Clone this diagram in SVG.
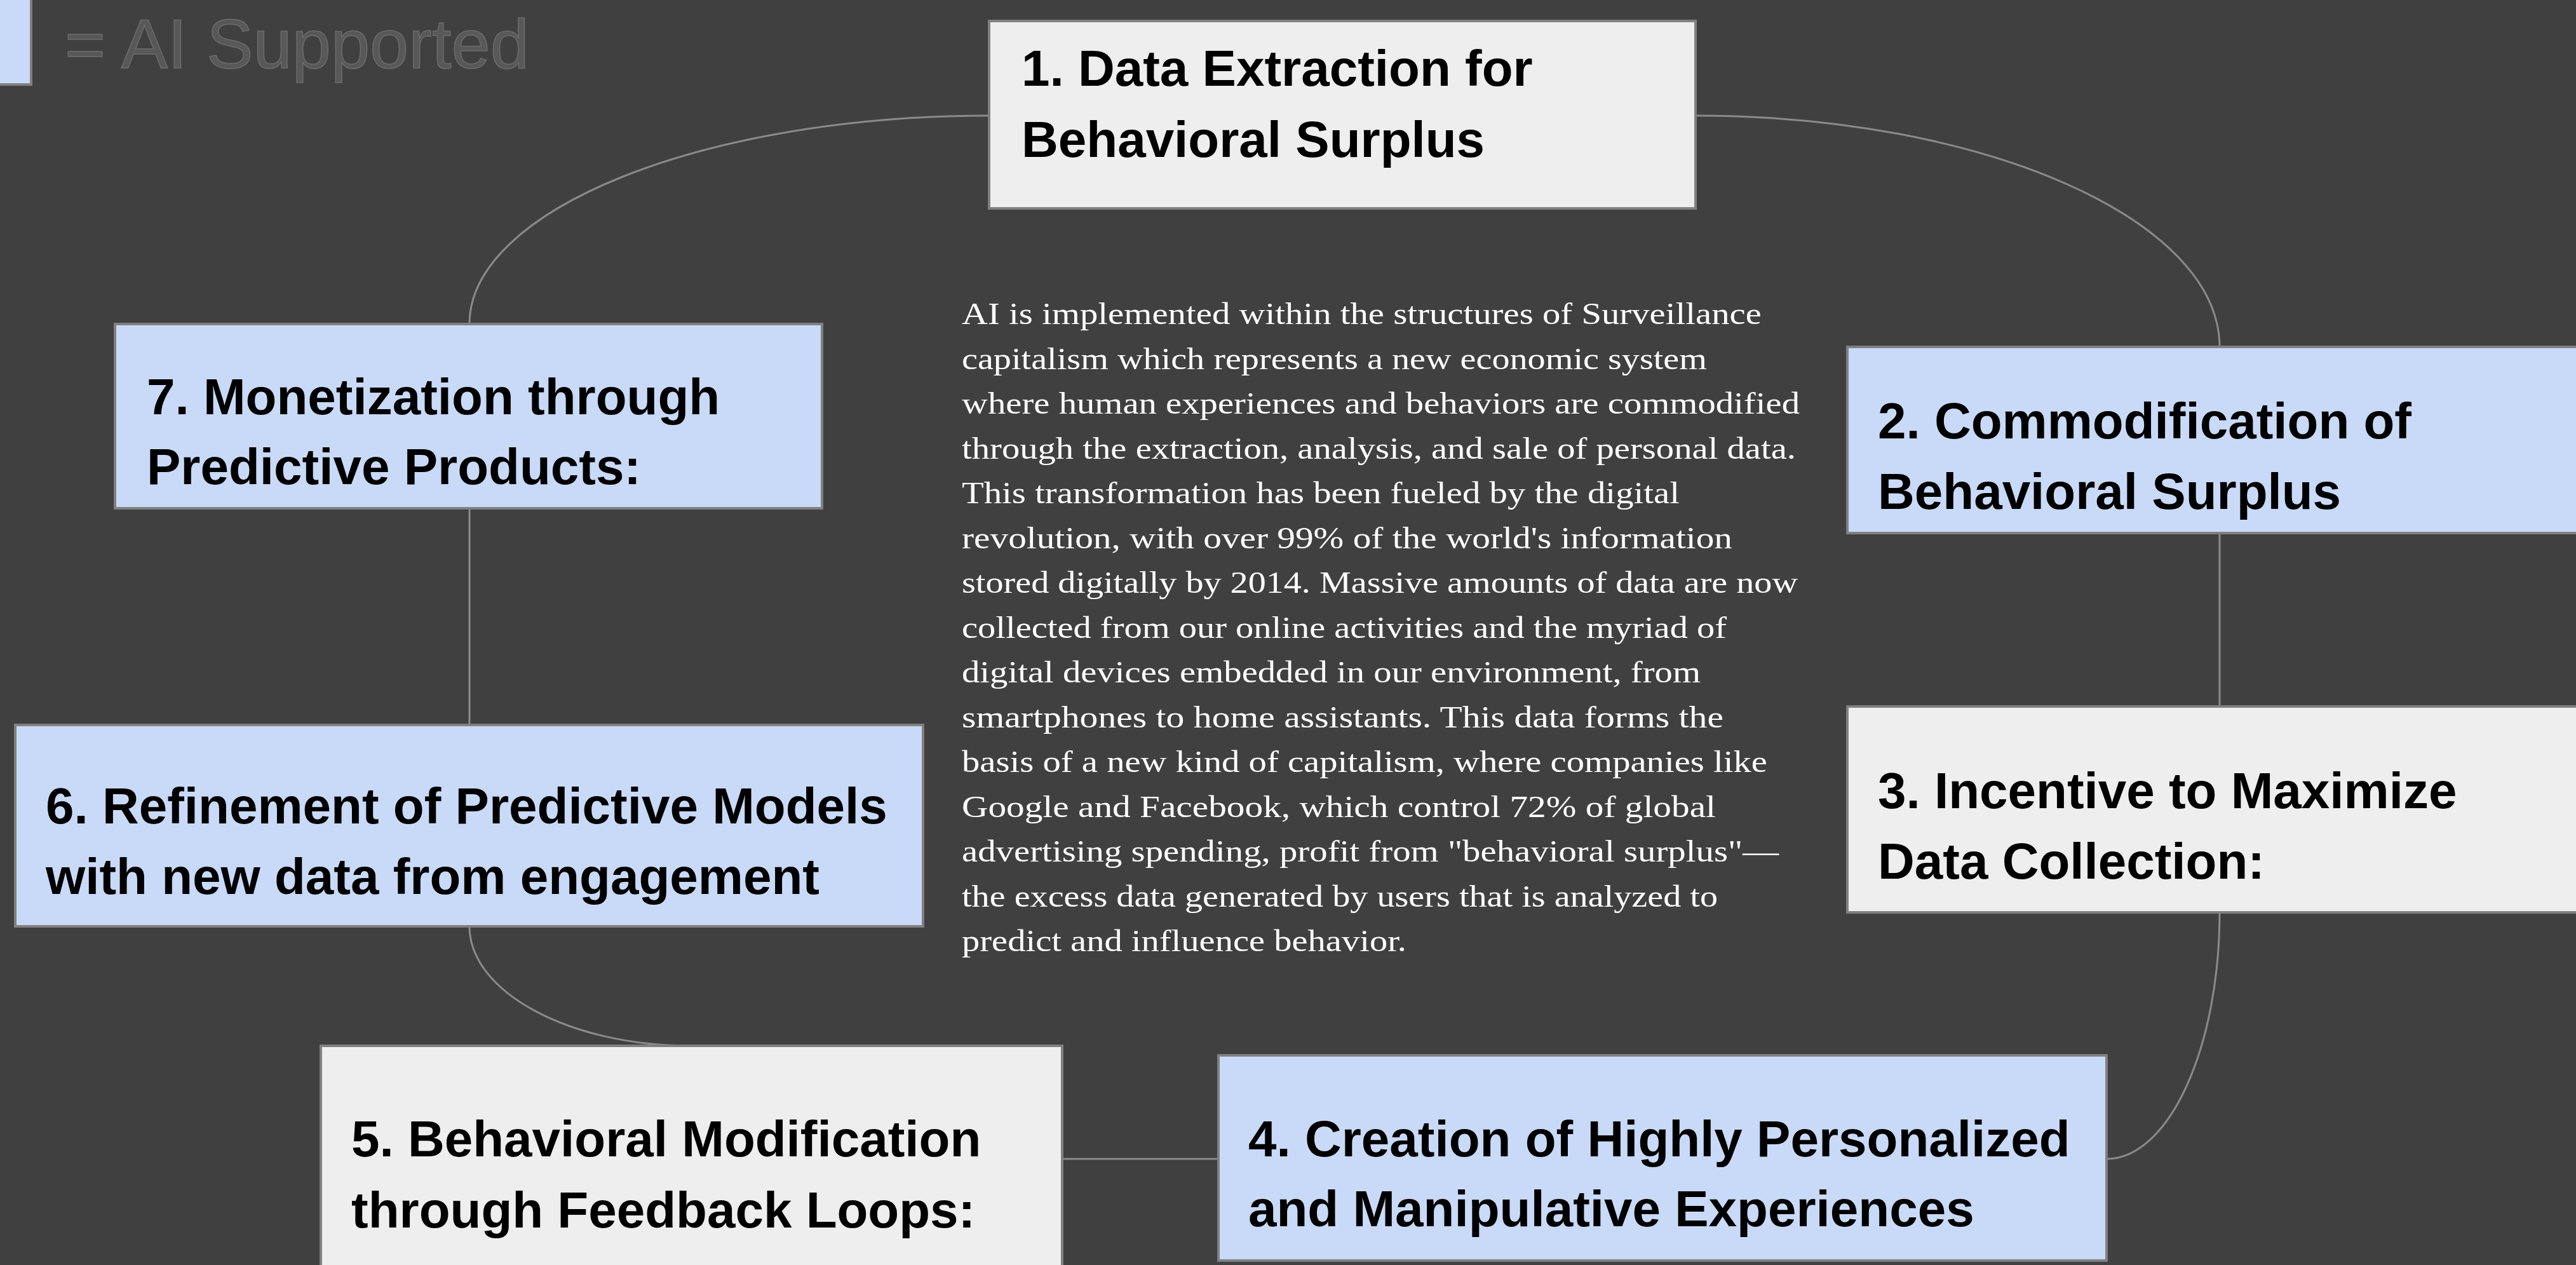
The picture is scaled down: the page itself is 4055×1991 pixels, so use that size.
<svg xmlns="http://www.w3.org/2000/svg" width="4055" height="1991" viewBox="0 0 4055 1991">
  <style>
    .box { stroke: #808080; stroke-width: 4; }
    .ai { fill: #c9daf8; }
    .plain { fill: #eeeeee; }
    .label { font-family: "Liberation Sans", Arial, sans-serif; font-weight: bold; font-size: 80px; fill: #000000; }
    .body { font-family: "Liberation Serif", "Times New Roman", serif; font-size: 48px; fill: #ffffff; }
    .legend { font-family: "Liberation Sans", Arial, sans-serif; font-size: 110px; fill: #585858; stroke: #6c6c6c; stroke-width: 1.5; }
    .conn { fill: none; stroke: #8a8a8a; stroke-width: 3; }
  </style>

  <rect x="0" y="0" width="4055" height="1991" fill="#404040"/>

  <!-- legend -->
  <g id="legend">
    <rect class="box ai" x="-10" y="-10" width="59" height="143"/>
    <text class="legend" x="102" y="107">= AI Supported</text>
  </g>

  <!-- connectors between the stages of the cycle -->
  <g id="connectors">
    <path class="conn" d="M2669,182 C3123,182 3494,346 3494,546"/>
    <path class="conn" d="M3494,839 L3494,1112"/>
    <path class="conn" d="M3494,1436 C3494,1649 3414,1824 3316,1824"/>
    <path class="conn" d="M1918,1824 L1672,1824"/>
    <path class="conn" d="M1087,1646 C896,1646 739,1561 739,1458"/>
    <path class="conn" d="M739,1141 L739,800"/>
    <path class="conn" d="M739,510 C739,330 1107,182 1557,182"/>
  </g>

  <g id="node-1">
    <rect class="box plain" x="1557" y="33" width="1112" height="295"/>
    <text class="label" x="1608" y="135">1. Data Extraction for</text>
    <text class="label" x="1608" y="247">Behavioral Surplus</text>
  </g>

  <g id="node-2">
    <rect class="box ai" x="2908" y="546" width="1172" height="293"/>
    <text class="label" x="2956" y="690">2. Commodification of</text>
    <text class="label" x="2956" y="801">Behavioral Surplus</text>
  </g>

  <g id="node-3">
    <rect class="box plain" x="2908" y="1112" width="1172" height="324"/>
    <text class="label" x="2956" y="1272">3. Incentive to Maximize</text>
    <text class="label" x="2956" y="1383">Data Collection:</text>
  </g>

  <g id="node-4">
    <rect class="box ai" x="1918" y="1661" width="1398" height="323"/>
    <text class="label" x="1965" y="1820">4. Creation of Highly Personalized</text>
    <text class="label" x="1965" y="1930">and Manipulative Experiences</text>
  </g>

  <g id="node-5">
    <rect class="box plain" x="505" y="1646" width="1167" height="356"/>
    <text class="label" x="553" y="1820">5. Behavioral Modification</text>
    <text class="label" x="553" y="1932">through Feedback Loops:</text>
  </g>

  <g id="node-6">
    <rect class="box ai" x="24" y="1141" width="1429" height="317"/>
    <text class="label" x="72" y="1296">6. Refinement of Predictive Models</text>
    <text class="label" x="72" y="1407">with new data from engagement</text>
  </g>

  <g id="node-7">
    <rect class="box ai" x="181" y="510" width="1113" height="290"/>
    <text class="label" x="231" y="652">7. Monetization through</text>
    <text class="label" x="231" y="762">Predictive Products:</text>
  </g>

  <!-- explanatory paragraph in the middle of the cycle -->
  <g id="description" class="body">
    <text x="1514" y="510" textLength="1259" lengthAdjust="spacingAndGlyphs">AI is implemented within the structures of Surveillance</text>
    <text x="1514" y="580.5" textLength="1173" lengthAdjust="spacingAndGlyphs">capitalism which represents a new economic system</text>
    <text x="1514" y="651" textLength="1319" lengthAdjust="spacingAndGlyphs">where human experiences and behaviors are commodified</text>
    <text x="1514" y="721.5" textLength="1313" lengthAdjust="spacingAndGlyphs">through the extraction, analysis, and sale of personal data.</text>
    <text x="1514" y="792" textLength="1130" lengthAdjust="spacingAndGlyphs">This transformation has been fueled by the digital</text>
    <text x="1514" y="862.5" textLength="1213" lengthAdjust="spacingAndGlyphs">revolution, with over 99% of the world's information</text>
    <text x="1514" y="933" textLength="1316" lengthAdjust="spacingAndGlyphs">stored digitally by 2014. Massive amounts of data are now</text>
    <text x="1514" y="1003.5" textLength="1204" lengthAdjust="spacingAndGlyphs">collected from our online activities and the myriad of</text>
    <text x="1514" y="1074" textLength="1163" lengthAdjust="spacingAndGlyphs">digital devices embedded in our environment, from</text>
    <text x="1514" y="1144.5" textLength="1199" lengthAdjust="spacingAndGlyphs">smartphones to home assistants. This data forms the</text>
    <text x="1514" y="1215" textLength="1268" lengthAdjust="spacingAndGlyphs">basis of a new kind of capitalism, where companies like</text>
    <text x="1514" y="1285.5" textLength="1187" lengthAdjust="spacingAndGlyphs">Google and Facebook, which control 72% of global</text>
    <text x="1514" y="1356" textLength="1286" lengthAdjust="spacingAndGlyphs">advertising spending, profit from "behavioral surplus"—</text>
    <text x="1514" y="1426.5" textLength="1190" lengthAdjust="spacingAndGlyphs">the excess data generated by users that is analyzed to</text>
    <text x="1514" y="1497" textLength="700" lengthAdjust="spacingAndGlyphs">predict and influence behavior.</text>
  </g>
</svg>
